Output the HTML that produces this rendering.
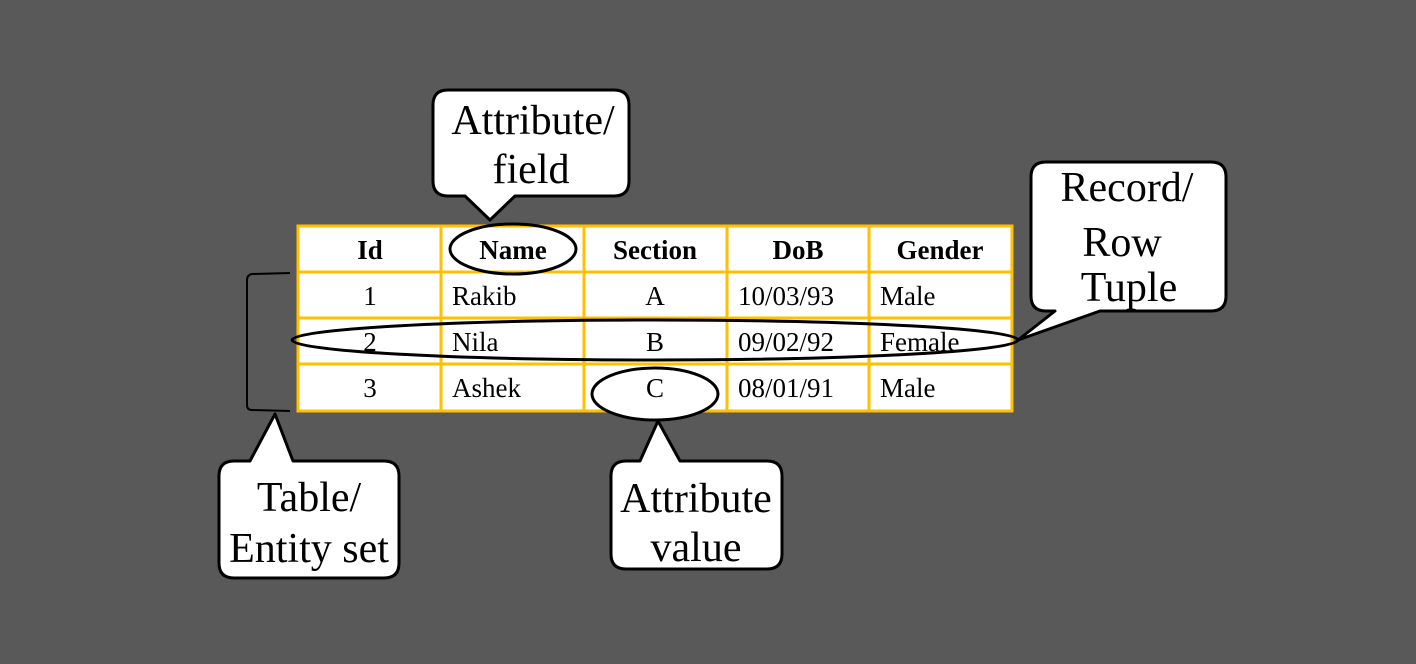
<!DOCTYPE html>
<html><head><meta charset="utf-8"><style>
html,body{margin:0;padding:0;background:#595959;}
svg{display:block;}
text{font-family:"Liberation Serif",serif;fill:#000;}
</style></head><body>
<svg width="1416" height="664" viewBox="0 0 1416 664">
<rect width="1416" height="664" fill="#595959"/>
<g stroke="#FFC000" stroke-width="3" fill="#fff">
<rect x="298" y="226" width="714" height="185"/>
</g>
<g stroke="#FFC000" stroke-width="3">
<line x1="441" y1="226" x2="441" y2="411"/>
<line x1="584" y1="226" x2="584" y2="411"/>
<line x1="727" y1="226" x2="727" y2="411"/>
<line x1="869" y1="226" x2="869" y2="411"/>
<line x1="298" y1="272" x2="1012" y2="272"/>
<line x1="298" y1="318" x2="1012" y2="318"/>
<line x1="298" y1="364" x2="1012" y2="364"/>
</g>
<g font-size="27" font-weight="bold" text-anchor="middle">
<text x="370" y="259">Id</text>
<text x="513" y="259">Name</text>
<text x="655" y="259">Section</text>
<text x="798" y="259">DoB</text>
<text x="940" y="259">Gender</text>
</g>
<g font-size="27">
<text x="370" y="305" text-anchor="middle">1</text>
<text x="452" y="305">Rakib</text>
<text x="655" y="305" text-anchor="middle">A</text>
<text x="738" y="305">10/03/93</text>
<text x="880" y="305">Male</text>
<text x="370" y="351" text-anchor="middle">2</text>
<text x="452" y="351">Nila</text>
<text x="655" y="351" text-anchor="middle">B</text>
<text x="738" y="351">09/02/92</text>
<text x="880" y="351">Female</text>
<text x="370" y="397" text-anchor="middle">3</text>
<text x="452" y="397">Ashek</text>
<text x="738" y="397">08/01/91</text>
<text x="880" y="397">Male</text>
</g>
<ellipse cx="513" cy="249" rx="63" ry="25" fill="none" stroke="#000" stroke-width="3"/>
<ellipse cx="655" cy="340" rx="363" ry="20" fill="none" stroke="#000" stroke-width="3"/>
<ellipse cx="655" cy="394" rx="63" ry="26" fill="#fff" stroke="#000" stroke-width="3"/>
<text x="655" y="397" font-size="27" text-anchor="middle">C</text>
<path d="M290 273 L252 274 Q247 275 247 280 L247 405 Q247 410 252 410 L290 411" fill="none" stroke="#000" stroke-width="2"/>
<g fill="#fff" stroke="#000" stroke-width="3" stroke-linejoin="round">
<path d="M448 90 H614 Q629 90 629 105 V181 Q629 196 614 196 H515 L490 220 L465 196 H448 Q433 196 433 181 V105 Q433 90 448 90 Z"/>
<path d="M1046 162 H1211 Q1226 162 1226 177 V296 Q1226 311 1211 311 H1100 L1018 340 L1055 311 H1046 Q1031 311 1031 296 V177 Q1031 162 1046 162 Z"/>
<path d="M234 461 H250 L275 414 L293 461 H384 Q399 461 399 476 V563 Q399 578 384 578 H234 Q219 578 219 563 V476 Q219 461 234 461 Z"/>
<path d="M626 461 H640 L658 421 L680 461 H767 Q782 461 782 476 V554 Q782 569 767 569 H626 Q611 569 611 554 V476 Q611 461 626 461 Z"/>
</g>
<g font-size="42" text-anchor="middle">
<text x="533" y="134">Attribute/</text>
<text x="531" y="183">field</text>
<text x="1127" y="201">Record/</text>
<text x="1122" y="256">Row</text>
<text x="1129" y="301">Tuple</text>
<text x="309" y="511">Table/</text>
<text x="309" y="562">Entity set</text>
<text x="696" y="512">Attribute</text>
<text x="696" y="561">value</text>
</g>
</svg>
</body></html>
